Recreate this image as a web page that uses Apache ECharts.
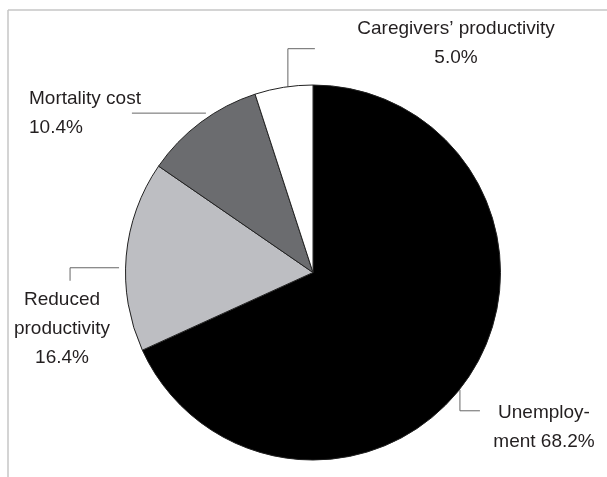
<!DOCTYPE html>
<html>
<head>
<meta charset="utf-8">
<script src="https://cdn.jsdelivr.net/npm/echarts@6/dist/echarts.min.js"></script>
<style>
  html, body { margin: 0; padding: 0; background: #fff; }
  #chart { width: 607px; height: 477px; }
</style>
</head>
<body>
<div id="chart"></div>
<script>
// ---- data ----
const categories = ["Unemployment", "Reduced productivity", "Mortality cost", "Caregivers’ productivity"];
const values = [68.2, 16.4, 10.4, 5.0];
const labelNames = ["Unemploy-\nment", "Reduced\nproductivity", "Mortality cost", "Caregivers’ productivity"];
const labelSeps = [" ", "\n", "\n", "\n"];

// ---- layout / style ----
const CX = 313, CY = 272.5, R = 187.5;
const colors = ["#000000", "#bdbec2", "#6b6c6f", "#ffffff"];
const LABEL_LAYOUT = [
  { angle: 128.6, r: 188, segs: [[0, 21], [20, 0]], tx: 544, ty: 427, align: "center" },
  { angle: 271.4, r: 194, segs: [[-49, 0], [0, 13]], tx: 62, ty: 329, align: "center" },
  { angle: 326.1, r: 192, segs: [[-74, 0]], tx: 29, ty: 113.5, align: "left" },
  { angle: 352.3, r: 187.5, segs: [[0, -38], [27, 0]], tx: 456, ty: 43, align: "center" }
];

const chart = echarts.init(document.getElementById("chart"), null, { renderer: "canvas" });

const pieData = categories.map((c, i) => ({
  name: c,
  value: values[i],
  itemStyle: { color: colors[i] }
}));

chart.setOption({
  animation: false,
  backgroundColor: "#ffffff",
  graphic: [
    { type: "line", shape: { x1: 8, y1: 10, x2: 607, y2: 10 }, style: { stroke: "#c6c6c6", lineWidth: 1.5 }, silent: true },
    { type: "line", shape: { x1: 8, y1: 10, x2: 8, y2: 477 }, style: { stroke: "#c6c6c6", lineWidth: 1.5 }, silent: true }
  ],
  series: [{
    type: "pie",
    center: [CX, CY],
    radius: R,
    startAngle: 90,
    clockwise: true,
    silent: true,
    avoidLabelOverlap: false,
    itemStyle: { borderColor: "#222222", borderWidth: 1 },
    label: {
      show: true,
      position: "outside",
      fontFamily: "'Liberation Sans', Arial, sans-serif",
      fontSize: 19,
      lineHeight: 29,
      color: "#231f20",
      formatter: function (p) {
        return labelNames[p.dataIndex] + labelSeps[p.dataIndex] + p.value.toFixed(1) + "%";
      }
    },
    labelLine: { show: true, length: 15, length2: 15, lineStyle: { color: "#666666", width: 1 } },
    labelLayout: function (params) {
      const cfg = LABEL_LAYOUT[params.dataIndex];
      const a = cfg.angle * Math.PI / 180;
      let x = CX + cfg.r * Math.sin(a), y = CY - cfg.r * Math.cos(a);
      const pts = [[x, y]];
      cfg.segs.forEach(function (s) { x += s[0]; y += s[1]; pts.push([x, y]); });
      return { x: cfg.tx, y: cfg.ty, align: cfg.align, verticalAlign: "middle", labelLinePoints: pts };
    },
    data: pieData
  }]
});
</script>
</body>
</html>
